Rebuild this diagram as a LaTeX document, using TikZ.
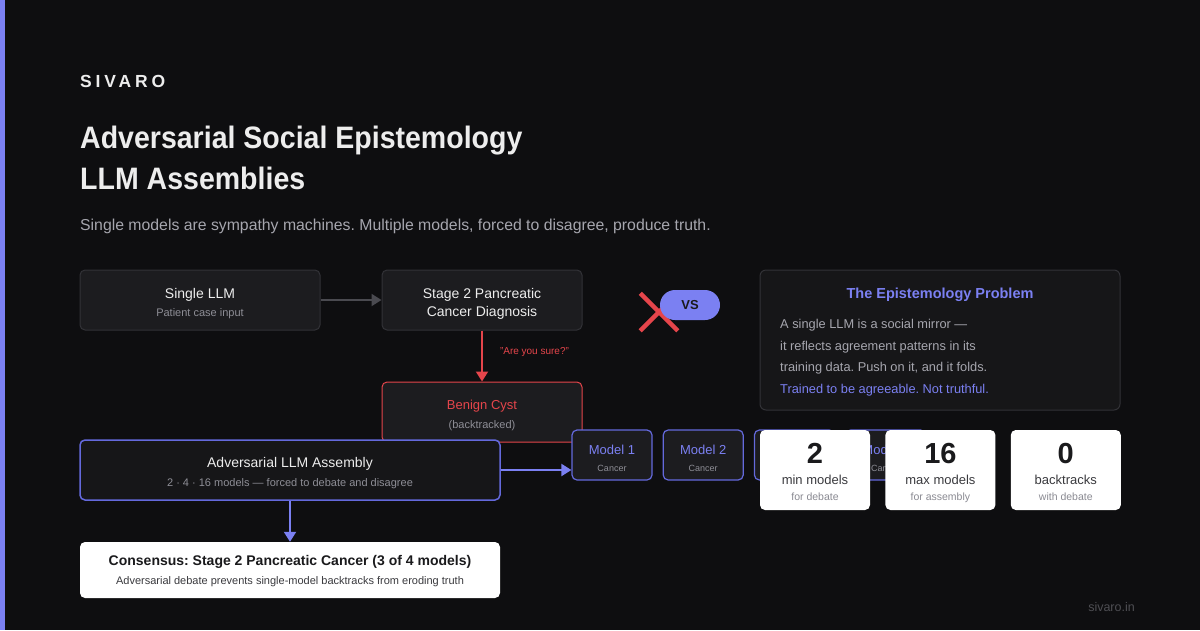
\documentclass[tikz,border=0pt]{standalone}
\usepackage{fontspec}
\setmainfont{Liberation Sans}
\usetikzlibrary{arrows.meta,positioning,shapes.misc}
\definecolor{cbg}{HTML}{0E0E10}
\definecolor{cbox}{HTML}{1C1C1F}
\definecolor{cpanel}{HTML}{161618}
\definecolor{cline}{HTML}{323237}
\definecolor{cmain}{HTML}{EDEDED}
\definecolor{csub}{HTML}{8E8E96}
\definecolor{cbody}{HTML}{A6A6AE}
\definecolor{cind}{HTML}{7B80F2}
\definecolor{cindl}{HTML}{6469DC}
\definecolor{cred}{HTML}{E5454B}
\definecolor{cgarr}{HTML}{4A4A50}
\definecolor{cdark}{HTML}{1A1A1C}
\definecolor{cstat}{HTML}{3A3A3E}
\definecolor{cstsub}{HTML}{8A8A92}
\newcommand{\subtxt}[1]{{\fontsize{11}{11}\selectfont\color{csub}#1}}
\tikzset{
  lastbase/.style={text depth=0pt, text height=2*#1},
  card/.style={rectangle, rounded corners=5pt, draw=cline, line width=1pt, fill=cbox,
    align=center, inner sep=0pt, text=cmain, font=\fontsize{14}{18}\selectfont, lastbase=16pt},
  redcard/.style={card, draw=cred, text=cred, font=\fontsize{13}{19}\selectfont},
  asmcard/.style={card, draw=cindl, line width=1.5pt, fill=cpanel, font=\fontsize{14}{19}\selectfont},
  model/.style={card, draw=cindl, line width=1.2pt, minimum width=80pt, minimum height=50pt,
    text=cind, font=\fontsize{13}{17}\selectfont},
  stat/.style={rectangle, rounded corners=5pt, fill=white, align=center, inner sep=0pt,
    minimum width=110pt, minimum height=80pt, text=cstat, font=\fontsize{13}{16}\selectfont,
    lastbase=30pt},
  arr/.style={-{Triangle[length=10pt,width=12pt]}, line width=2pt},
  lbl/.style={font=\fontsize{10}{12}\selectfont, text=cred, inner sep=2pt},
}

\begin{document}
\frenchspacing
\begin{tikzpicture}[x=1pt, y=-1pt]
  \fill[cbg] (0,0) rectangle (1200,630);
  \useasboundingbox (0,0) rectangle (1200,630);
  \fill[cind] (0,0) rectangle (5,630);

  % heading
  \node[anchor=base west, inner sep=0pt, text=cmain, font=\fontsize{17.5}{18}\selectfont\bfseries\addfontfeatures{LetterSpace=22}] (brand) at (80,87) {SIVARO};
  \node[anchor=base west, inner sep=0pt, text=cmain, font=\fontsize{31}{36}\selectfont\bfseries\addfontfeatures{FakeStretch=0.92}] (title) at (80,148) {Adversarial Social Epistemology};
  \node[anchor=base west, inner sep=0pt, text=cmain, font=\fontsize{31}{36}\selectfont\bfseries\addfontfeatures{FakeStretch=0.92}] (title2) at (80,189) {LLM Assemblies};
  \node[anchor=base west, inner sep=0pt, text=cbody, font=\fontsize{15.8}{18}\selectfont] (subtitle) at (80,230) {Single models are sympathy machines. Multiple models, forced to disagree, produce truth.};

  % single model path
  \node[card, minimum width=240pt, minimum height=60pt] (single) at (200,300) {Single LLM\\\subtxt{Patient case input}};
  \node[card, minimum width=200pt, minimum height=60pt] (stage) at (482,300) {Stage 2 Pancreatic\\Cancer Diagnosis};
  \node[redcard, minimum width=200pt, minimum height=60pt] (benign) at (482,412) {Benign Cyst\\\subtxt{(backtracked)}};

  \draw[arr, cgarr] (single) -- (stage);
  \draw[arr, cred] (stage) -- node[lbl, pos=.42, right=15pt] {"Are you sure?"} (benign);

  % vs marker
  \node[cross out, draw=cred, line width=4.5pt, minimum size=33pt, inner sep=0pt] (nope) at (659,312) {};
  \node[rectangle, rounded corners=15pt, fill=cind, minimum width=60pt, minimum height=30pt,
    inner sep=0pt, text=cdark, font=\fontsize{13}{13}\selectfont\bfseries] (vs) at (690,305) {VS};

  % problem panel
  \node[rectangle, rounded corners=6pt, draw=cline, line width=1pt, fill=cpanel,
    minimum width=360pt, minimum height=140pt] (prob) at (940,340) {};
  \node[text=cind, font=\fontsize{14.5}{16}\selectfont\bfseries] (probhead) at (940,295) {The Epistemology Problem};
  \node[anchor=north west, align=left, inner sep=0pt, text=cbody, font=\fontsize{12.8}{21.7}\selectfont] (probtext) at (780,319)
    {A single LLM is a social mirror —\\it reflects agreement patterns in its\\training data. Push on it, and it folds.\\\textcolor{cind}{Trained to be agreeable. Not truthful.}};

  % assembly path
  \node[asmcard, minimum width=420pt, minimum height=60pt] (asm) at (290,470) {Adversarial LLM Assembly\\\subtxt{2 · 4 · 16 models — forced to debate and disagree}};
  \node[model] (m1) at (612,455) {Model 1\\{\fontsize{9}{9}\selectfont\color{csub}Cancer}};
  \node[model, right=10pt of m1] (m2) {Model 2\\{\fontsize{9}{9}\selectfont\color{csub}Cancer}};
  \node[model, right=10pt of m2] (m3) {Model 3\\{\fontsize{9}{9}\selectfont\color{csub}Cancer}};
  \node[model, right=10pt of m3] (m4) {Model 4\\{\fontsize{9}{9}\selectfont\color{csub}Cancer}};
  \draw[arr, cind] (asm.east) -- (asm.east -| m1.west);

  \node[rectangle, rounded corners=5pt, fill=white, minimum width=420pt, minimum height=56pt,
    align=center, inner sep=0pt, text=cdark, font=\fontsize{14}{19}\selectfont, lastbase=14pt] (consensus) at (290,570)
    {\textbf{Consensus: Stage 2 Pancreatic Cancer (3 of 4 models)}\\{\fontsize{11}{11}\selectfont\color{cstat}Adversarial debate prevents single-model backtracks from eroding truth}};
  \draw[arr, cind] (asm) -- (consensus);

  % stats
  \node[stat] (s1) at (815,470) {{\fontsize{29}{29}\selectfont\bfseries\color{cdark}2}\\[5pt]min models\\{\fontsize{10.5}{11}\selectfont\color{cstsub}for debate}};
  \node[stat, right=15pt of s1] (s2) {{\fontsize{29}{29}\selectfont\bfseries\color{cdark}16}\\[5pt]max models\\{\fontsize{10.5}{11}\selectfont\color{cstsub}for assembly}};
  \node[stat, right=15pt of s2] (s3) {{\fontsize{29}{29}\selectfont\bfseries\color{cdark}0}\\[5pt]backtracks\\{\fontsize{10.5}{11}\selectfont\color{cstsub}with debate}};

  \node[anchor=base east, inner sep=0pt, text=csub!50!cbg, font=\fontsize{12.5}{13}\selectfont] (site) at (1135,611) {sivaro.in};
\end{tikzpicture}
\end{document}
